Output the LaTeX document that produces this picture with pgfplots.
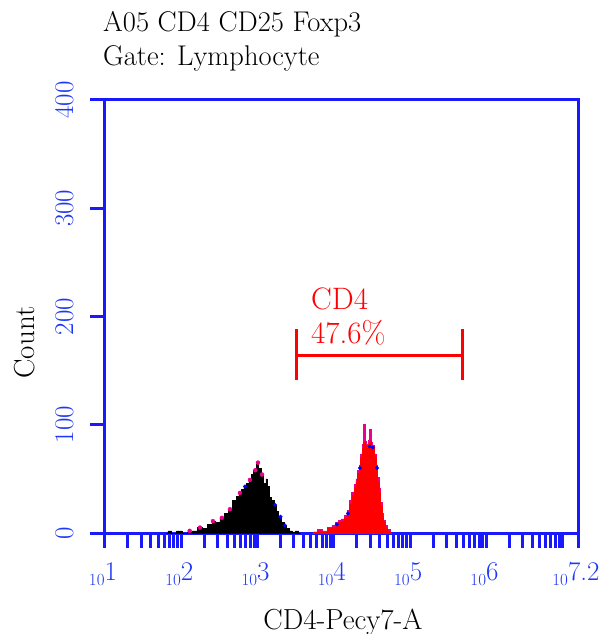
\documentclass[border=0pt]{standalone}
\usepackage{pgfplots}
\pgfplotsset{compat=1.18}
\definecolor{axblue}{RGB}{25,25,250}
\definecolor{lblblue}{RGB}{30,55,245}
\newcommand\xl[1]{\mbox{{\fontsize{17}{17}\selectfont\raisebox{-5pt}{10}}{\fontsize{27}{27}\selectfont #1}}}
\begin{document}
\begin{tikzpicture}
\path[use as bounding box] (-105pt,-101pt) rectangle (503pt,533pt);
\begin{axis}[at={(0,0)}, anchor=south west, scale only axis, width=473pt, height=433pt,
  xmin=1, xmax=7.2, ymin=0, ymax=400,
  /pgf/number format/assume math mode=true,
  axis line style={axblue, line width=3pt},
  tick align=outside, tick pos=left,
  major tick length=15pt, minor tick length=15pt,
  tick style={axblue, line width=3pt},
  minor tick style={axblue, line width=3pt},
  xtick={1,2,3,4,5,6,7.2},
  xticklabels={\xl{1},\xl{2},\xl{3},\xl{4},\xl{5},\xl{6},\xl{7.2}},
  minor xtick={1.30103,1.47712,1.60206,1.69897,1.77815,1.84510,1.90309,1.95424,
    2.30103,2.47712,2.60206,2.69897,2.77815,2.84510,2.90309,2.95424,
    3.30103,3.47712,3.60206,3.69897,3.77815,3.84510,3.90309,3.95424,
    4.30103,4.47712,4.60206,4.69897,4.77815,4.84510,4.90309,4.95424,
    5.30103,5.47712,5.60206,5.69897,5.77815,5.84510,5.90309,5.95424,
    6.30103,6.47712,6.60206,6.69897,6.77815,6.84510,6.90309,6.95424,7},
  ytick={0,100,200,300,400},
  yticklabel shift=13pt,
  yticklabel style={rotate=90, anchor=south, font=\fontsize{27}{27}\selectfont, text=lblblue},
  xticklabel style={anchor=base, yshift=-32pt, xshift=-2pt, text=lblblue},
]
% black peak
\addplot[const plot mark mid, fill=black, draw=black, line width=0.6pt] table {
x y
1.80 0
1.85 2
1.90 0
1.98 2
2.05 0
2.11 1
2.18 2
2.25 5
2.31 4
2.38 8
2.42 11
2.48 10
2.53 14
2.59 18
2.64 22
2.70 30
2.74 34
2.77 37
2.80 40
2.84 43
2.87 46
2.90 49
2.93 54
2.97 58
3.00 65
3.03 60
3.06 54
3.10 46
3.12 50
3.14 43
3.16 33
3.20 30
3.23 26
3.26 20
3.29 15
3.33 10
3.36 7
3.40 4
3.43 2
3.47 1
3.52 2
3.56 0
} \closedcycle;
\addplot[only marks, mark=*, mark size=2pt, magenta] table {
x y
2.11 2
2.245 5
2.415 11
2.533 14
2.638 22
2.769 37
2.900 49
2.970 58
3.005 65
3.058 54
};
\addplot[only marks, mark=*, mark size=1.8pt, blue] table {
x y
2.835 43
3.228 26
3.359 7
3.30 15
};
% red peak envelope (magenta)
\addplot[const plot mark mid, fill=magenta, draw=magenta, line width=0.6pt] table {
x y
3.72 0
3.75 1
3.82 3
3.88 2
3.95 5
4.00 7
4.04 10
4.08 12
4.12 13
4.15 16
4.19 21
4.22 30
4.25 38
4.28 45
4.30 50
4.32 58
4.34 63
4.36 73
4.38 82
4.40 100
4.42 85
4.44 82
4.46 86
4.48 96
4.50 84
4.52 81
4.54 73
4.56 63
4.58 51
4.60 41
4.62 28
4.64 18
4.66 12
4.69 7
4.72 3
4.76 0
} \closedcycle;
\addplot[const plot mark mid, fill=red, draw=red, line width=0.4pt] table {
x y
3.72 0
3.75 1
3.82 2
3.88 1
3.95 4
4.00 5
4.04 8
4.08 10
4.12 11
4.15 14
4.19 18
4.22 27
4.25 35
4.28 42
4.30 47
4.32 55
4.34 60
4.36 70
4.38 78
4.40 84
4.42 80
4.44 78
4.46 82
4.48 85
4.50 80
4.52 78
4.54 70
4.56 60
4.58 48
4.60 38
4.62 25
4.64 15
4.66 10
4.69 5
4.72 2
4.76 0
} \closedcycle;
\addplot[only marks, mark=*, mark size=1.8pt, blue] table {
x y
4.04 8
4.185 18
4.342 60
4.47 80
4.512 79
4.565 60
};
% gate
\addplot[red, line width=3pt] coordinates {(3.516,164.4) (5.692,164.4)};
\addplot[red, line width=3pt] coordinates {(3.516,141) (3.516,188.5)};
\addplot[red, line width=3pt] coordinates {(5.692,141) (5.692,188.5)};
\end{axis}
\node[anchor=base west, inner sep=0, font=\fontsize{28.5}{30}\selectfont] at (-2pt,501pt) {A05 CD4 CD25 Foxp3};
\node[anchor=base west, inner sep=0, font=\fontsize{28.5}{30}\selectfont] at (-2pt,467pt) {Gate: Lymphocyte};
\node[rotate=90, anchor=base, inner sep=0, font=\fontsize{29}{30}\selectfont] at (-70pt,190.5pt) {Count};
\node[anchor=base, inner sep=0, font=\fontsize{29}{30}\selectfont] at (238pt,-96pt) {CD4-Pecy7-A};
\node[anchor=base west, inner sep=0, text=red, font=\fontsize{31}{31}\selectfont] at (206pt,223pt) {CD4};
\node[anchor=base west, inner sep=0, text=red, font=\fontsize{31}{31}\selectfont] at (206pt,189pt) {47.6\%};
\end{tikzpicture}
\end{document}
